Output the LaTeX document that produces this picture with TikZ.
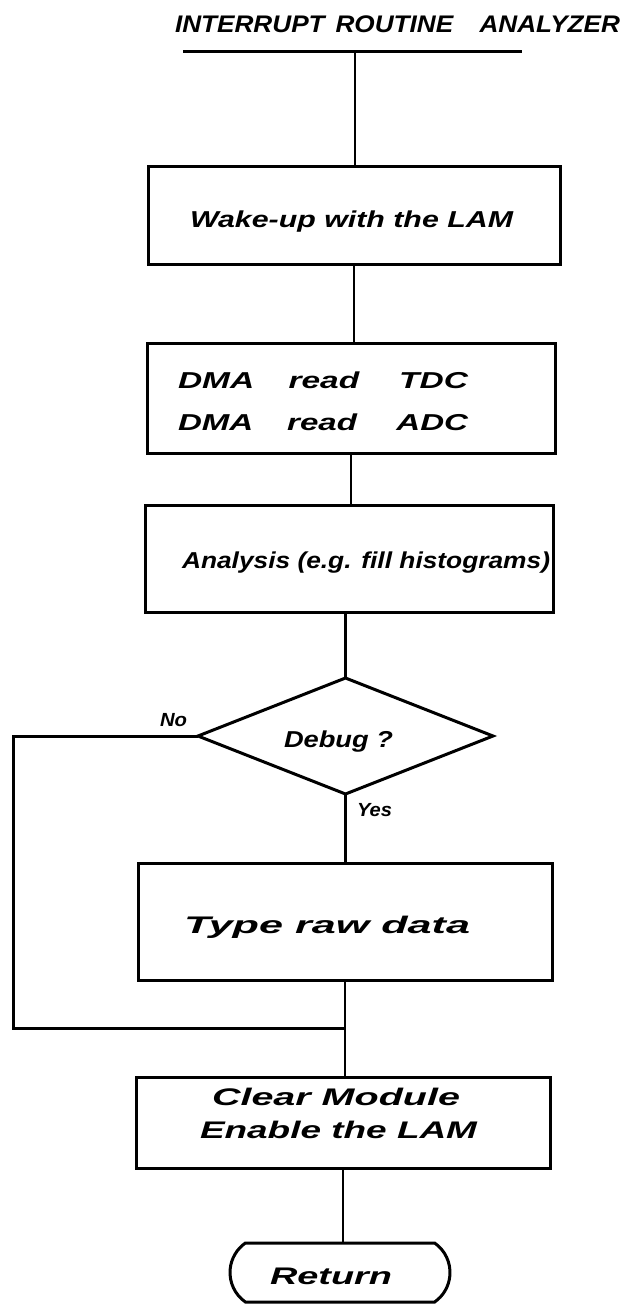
\documentclass[tikz,border=0pt]{standalone}
\usepackage{fontspec}
\setmainfont{Liberation Sans}
\usetikzlibrary{shapes.geometric,shapes.misc}
\newcommand{\hw}[2]{\resizebox{#1}{\height}{#2}}
\begin{document}
\begin{tikzpicture}[x=1pt,y=-1pt,
  box/.style={draw,line width=3pt,rectangle,inner sep=0pt,outer sep=0pt},
  conn/.style={line width=2.2pt},
  loopline/.style={line width=3pt,line join=miter},
  txt/.style={inner sep=0pt,outer sep=0pt,anchor=west,font=\fontsize{23}{26}\selectfont\bfseries\itshape},
  smalltxt/.style={txt,font=\fontsize{19}{21}\selectfont\bfseries\itshape},
  bigtxt/.style={txt,font=\fontsize{24}{27}\selectfont\bfseries\itshape}]
\useasboundingbox (0,0) rectangle (628,1305);

% title
\node[txt,font=\fontsize{24}{28}\selectfont\bfseries\itshape] (title) at (175,24)
  {\hw{445pt}{INTERRUPT\hspace{10pt}ROUTINE\hspace{24pt}ANALYZER}};
\coordinate (ulL) at (183,52);
\coordinate (ulR) at (522,52);
\coordinate (ulM) at (355,52);
\draw[line width=3pt] (ulL) -- (ulR);

% boxes
\node[box,minimum width=412pt,minimum height=98pt] (b1) at (354,216) {};
\node[txt] (t1) at (190,222) {\hw{323pt}{Wake-up with the LAM}};

\node[box,minimum width=408pt,minimum height=110pt] (b2) at (351,398) {};
\node[txt] (t2a) at (178,380)
  {\hw{290pt}{\makebox[76pt][l]{DMA}\makebox[76pt][l]{read}TDC}};
\node[txt] (t2b) at (178,422)
  {\hw{290pt}{\makebox[76pt][l]{DMA}\makebox[76pt][l]{read}ADC}};

\node[box,minimum width=408pt,minimum height=107pt] (b3) at (349,558.5) {};
\node[txt] (t3) at (182,563) {\hw{368pt}{Analysis (e.g. fill histograms)}};

\node[draw,diamond,line width=3pt,minimum width=295pt,minimum height=116pt,
  inner sep=0pt,outer sep=0pt] (dec) at (345.5,736) {};
\node[txt] (tdec) at (284,742) {\hw{109pt}{Debug ?}};
\node[smalltxt] (tno) at (160,720) {\hw{27pt}{No}};
\node[smalltxt] (tyes) at (357,810) {\hw{35pt}{Yes}};

\node[box,minimum width=414pt,minimum height=117pt] (b4) at (345,921.5) {};
\node[bigtxt] (t4) at (184,927) {\hw{286pt}{Type raw data}};

\node[box,minimum width=414pt,minimum height=91pt] (b5) at (343,1122.5) {};
\node[bigtxt] (t5a) at (212,1097) {\hw{248pt}{Clear Module}};
\node[bigtxt] (t5b) at (200,1130) {\hw{277pt}{Enable the LAM}};

\node[draw,rounded rectangle,rounded rectangle arc length=110,line width=3pt,
  minimum width=220pt,minimum height=59pt,inner sep=0pt,outer sep=0pt] (ret) at (340,1272.5) {};
\node[bigtxt] (tret) at (270,1276) {\hw{122pt}{Return}};

% connectors
\draw[conn] (ulM) -- (ulM |- b1.north);
\draw[conn] (b1.south) -- (b1.south |- b2.north);
\draw[conn] (b2.south) -- (b2.south |- b3.north);
\draw[conn] (dec.north |- b3.south) -- (dec.north);
\draw[conn] (dec.south) -- (dec.south |- b4.north);
\coordinate (lc1) at (13,736);
\coordinate (lc2) at (13,1028);
\coordinate (mrg) at (345,1028);
\draw[loopline] (dec.west) -- (lc1) -- (lc2) -- (mrg);
\draw[conn] (b4.south) -- (b4.south |- b5.north);
\draw[conn] (b5.south) -- (b5.south |- ret.north);
\end{tikzpicture}
\end{document}
